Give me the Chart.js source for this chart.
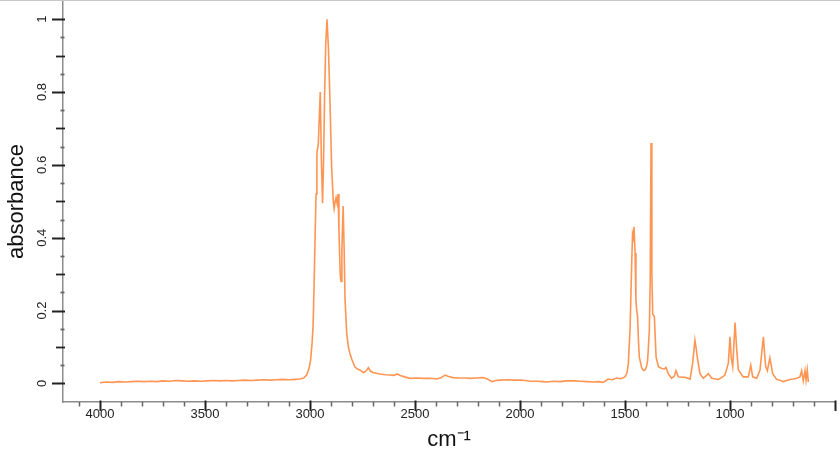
<!DOCTYPE html>
<html>
<head>
<meta charset="utf-8">
<script src="https://cdn.jsdelivr.net/npm/chart.js@4"></script>
<style>
  html, body { margin: 0; padding: 0; background: #fff; }
  #frame { width: 840px; height: 461px; border-top: 1px solid #c8c8c8; }
</style>
</head>
<body>
<div id="frame"><canvas id="spectrum" width="840" height="461"></canvas></div>
<script>
// IR spectrum (wavenumber in cm-1, absorbance)
const wavenumbers = [
  4000, 3970, 3940, 3910, 3880, 3850, 3820, 3790, 3760, 3730, 3700, 3670, 3640, 3610, 3580, 3550,
  3520, 3490, 3460, 3430, 3400, 3370, 3340, 3310, 3280, 3250, 3220, 3190, 3160, 3130, 3100, 3070,
  3048, 3030, 3016, 3005, 2997, 2990, 2985, 2980, 2975, 2971, 2967, 2960, 2955, 2951, 2946, 2940,
  2935, 2930, 2925, 2919, 2912, 2905, 2897, 2889, 2885, 2880, 2876, 2871, 2866, 2862, 2856, 2852,
  2848, 2842, 2837, 2833, 2825, 2817, 2810, 2800, 2786, 2770, 2762, 2746, 2735, 2722, 2712, 2700,
  2667, 2640, 2619, 2600, 2586, 2570, 2550, 2524, 2490, 2460, 2429, 2395, 2375, 2357, 2340, 2319,
  2290, 2260, 2238, 2210, 2176, 2155, 2133, 2115, 2095, 2060, 2030, 2000, 1975, 1952, 1920, 1890,
  1871, 1840, 1810, 1780, 1738, 1710, 1680, 1650, 1625, 1605, 1590, 1581, 1560, 1540, 1520, 1500,
  1490, 1484, 1476, 1468, 1464, 1460, 1457, 1452, 1448, 1444, 1440, 1436, 1432, 1420, 1412, 1405,
  1398, 1392, 1384, 1380, 1376, 1372, 1368, 1365, 1360, 1352, 1341, 1325, 1312, 1305, 1294, 1278,
  1265, 1257, 1246, 1230, 1214, 1190, 1178, 1167, 1162, 1156, 1143, 1127, 1103, 1087, 1056, 1040,
  1024, 1008, 1000, 994, 987, 976, 968, 960, 937, 913, 906, 901, 892, 873, 857, 846,
  841, 835, 830, 822, 810, 797, 778, 760, 746, 730, 714, 700, 682, 667, 659, 651,
  643, 638, 632, 627
];
const absorbance = [
  0.002, 0.004, 0.003, 0.005, 0.004, 0.005, 0.006, 0.005, 0.006, 0.005, 0.007, 0.006, 0.008, 0.007, 0.006, 0.007,
  0.006, 0.007, 0.008, 0.007, 0.008, 0.007, 0.008, 0.009, 0.008, 0.009, 0.010, 0.009, 0.010, 0.011, 0.010, 0.011,
  0.012, 0.015, 0.023, 0.040, 0.064, 0.11, 0.16, 0.28, 0.42, 0.52, 0.63, 0.66, 0.74, 0.80, 0.62, 0.495,
  0.62, 0.80, 0.93, 1.0, 0.92, 0.78, 0.595, 0.50, 0.48, 0.50, 0.51, 0.495, 0.52, 0.42, 0.30, 0.28,
  0.37, 0.487, 0.36, 0.23, 0.138, 0.10, 0.083, 0.065, 0.045, 0.038, 0.037, 0.030, 0.033, 0.043, 0.034, 0.030,
  0.026, 0.024, 0.023, 0.022, 0.026, 0.022, 0.018, 0.014, 0.015, 0.014, 0.014, 0.012, 0.016, 0.023, 0.019, 0.016,
  0.015, 0.015, 0.014, 0.015, 0.016, 0.012, 0.005, 0.008, 0.009, 0.010, 0.009, 0.009, 0.008, 0.006, 0.006, 0.005,
  0.004, 0.006, 0.005, 0.007, 0.007, 0.006, 0.005, 0.004, 0.005, 0.003, 0.008, 0.012, 0.010, 0.015, 0.013, 0.018,
  0.030, 0.055, 0.146, 0.33, 0.41, 0.40, 0.43, 0.358, 0.229, 0.20, 0.183, 0.12, 0.073, 0.042, 0.036, 0.037,
  0.045, 0.064, 0.146, 0.28, 0.66, 0.30, 0.19, 0.188, 0.183, 0.073, 0.046, 0.041, 0.040, 0.044, 0.027, 0.014,
  0.020, 0.035, 0.018, 0.017, 0.017, 0.012, 0.055, 0.119, 0.10, 0.073, 0.027, 0.014, 0.027, 0.014, 0.011, 0.016,
  0.023, 0.055, 0.128, 0.07, 0.046, 0.167, 0.092, 0.037, 0.018, 0.018, 0.035, 0.05, 0.018, 0.014, 0.037, 0.10,
  0.128, 0.08, 0.046, 0.035, 0.07, 0.027, 0.011, 0.008, 0.005, 0.008, 0.011, 0.012, 0.014, 0.018, 0.035, 0.007,
  0.035, 0.009, 0.037, 0.004
];

const xTickValues = [4000, 3500, 3000, 2500, 2000, 1500, 1000, 500];
const yTickValues = [0, 0.2, 0.4, 0.6, 0.8, 1];
const xTitle = 'cm\u207B\u00B9';
const yTitle = 'absorbance';

const FONT = "'Liberation Sans', Arial, sans-serif";
const LINE_COLOR = 'rgba(255,104,10,0.7)';
const AXIS_COLOR = '#8c8c8c';
const TICK_DARK = '#222';
const TICK_MINOR = '#666';

// minor/major tick marks, positioned through the chart's own scales
const tickMarks = {
  id: 'tickMarks',
  afterDraw(chart) {
    const { ctx, scales: { x, y } } = chart;
    const axisY = x.top;
    const axisX = y.right;
    const seg = (x1, y1, x2, y2, color, w) => {
      ctx.strokeStyle = color;
      ctx.lineWidth = w;
      ctx.beginPath();
      ctx.moveTo(x1, y1);
      ctx.lineTo(x2, y2);
      ctx.stroke();
    };
    ctx.save();
    for (let v = 600; v <= 4100; v += 100) {
      if (v % 500 === 0) continue;
      const px = Math.round(x.getPixelForValue(v)) + 0.5;
      seg(px, axisY, px, axisY + 4.5, TICK_MINOR, 1.5);
    }
    xTickValues.forEach(v => {
      const px = Math.round(x.getPixelForValue(v)) + 0.5;
      seg(px, axisY - 1.5, px, axisY + 9, TICK_DARK, 2);
    });
    for (let i = 1; i < 20; i++) {
      if (i % 4 === 0) continue;
      const py = Math.round(y.getPixelForValue(i * 0.05)) + 0.5;
      if (i % 2 === 0) seg(axisX - 7, py, axisX + 2, py, TICK_DARK, 1.8);
      else seg(axisX - 2.5, py, axisX + 1.5, py, TICK_MINOR, 1.8);
    }
    yTickValues.forEach(v => {
      const py = Math.round(y.getPixelForValue(v)) + 0.5;
      seg(axisX - 11, py, axisX + 2, py, TICK_DARK, 2);
    });
    ctx.restore();
  }
};

new Chart(document.getElementById('spectrum'), {
  type: 'line',
  data: {
    datasets: [{
      data: wavenumbers.map((w, i) => ({ x: w, y: absorbance[i] })),
      borderColor: LINE_COLOR,
      borderWidth: 1.6,
      pointRadius: 0,
      tension: 0,
      fill: false,
    }],
  },
  options: {
    responsive: false,
    animation: false,
    devicePixelRatio: 1,
    layout: { padding: { left: 0, right: 5, top: 0, bottom: 0 } },
    plugins: { legend: { display: false }, tooltip: { enabled: false } },
    scales: {
      x: {
        type: 'linear',
        reverse: true,
        min: 500,
        max: 4176,
        afterBuildTicks: s => { s.ticks = xTickValues.map(v => ({ value: v })); },
        afterFit: s => { s.height = 60; s.paddingLeft = 0; s.paddingRight = 0; },
        grid: { display: false, drawTicks: false },
        border: { color: AXIS_COLOR, width: 1.5 },
        ticks: {
          autoSkip: false,
          maxRotation: 0,
          padding: 5,
          color: TICK_DARK,
          font: { family: FONT, size: 13 },
          callback: v => (v >= 1000 ? String(v) : ''),
        },
        title: {
          display: true,
          text: xTitle,
          color: '#111',
          font: { family: FONT, size: 22 },
          padding: { top: 0, bottom: 9 },
        },
      },
      y: {
        type: 'linear',
        min: -0.051,
        max: 1.05,
        afterBuildTicks: s => { s.ticks = yTickValues.map(v => ({ value: v })); },
        afterFit: s => { s.width = 63; s.paddingTop = 0; s.paddingBottom = 0; },
        grid: { display: false, drawTicks: false },
        border: { color: AXIS_COLOR, width: 1.5 },
        ticks: {
          minRotation: 90,
          maxRotation: 90,
          crossAlign: 'center',
          padding: 12,
          color: TICK_DARK,
          font: { family: FONT, size: 13 },
          callback: v => String(v),
        },
        title: {
          display: true,
          text: yTitle,
          color: '#111',
          font: { family: FONT, size: 22 },
          padding: { top: 4, bottom: 0 },
        },
      },
    },
  },
  plugins: [tickMarks],
});
</script>
</body>
</html>
